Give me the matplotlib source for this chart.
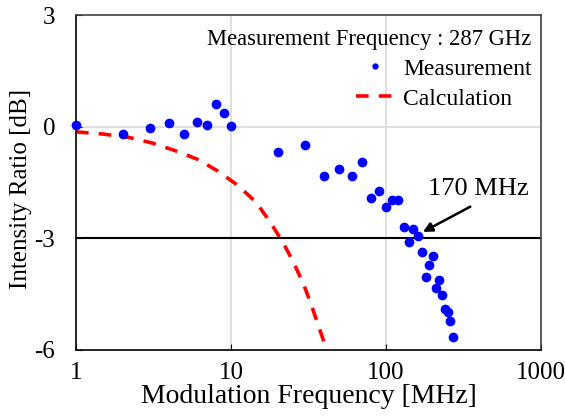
import numpy as np
import matplotlib.pyplot as plt

plt.rcParams['font.family'] = ['Liberation Serif', 'DejaVu Serif']
plt.rcParams['mathtext.fontset'] = 'stix'

# measured intensity ratio vs modulation frequency
meas_freq = [1, 2, 3, 4, 5, 6, 7, 8, 9, 10,
             20, 30, 40, 50, 60, 70, 80, 90, 100, 110, 120,
             130, 140, 150, 160, 170, 180, 190, 200, 210, 220,
             230, 240, 250, 260, 270]
meas_db = [0.05, -0.2, -0.04, 0.1, -0.2, 0.13, 0.05, 0.6, 0.37, 0.02,
           -0.68, -0.5, -1.33, -1.14, -1.33, -0.95, -1.92, -1.73, -2.16, -1.97, -1.97,
           -2.7, -3.1, -2.75, -2.94, -3.37, -4.04, -3.72, -3.48, -4.33, -4.12,
           -4.52, -4.9, -4.98, -5.22, -5.65]

# calculated response
calc_freq = [1, 1.5, 2.2, 3.1, 4.4, 6.1, 8.2, 11, 14.5, 17.8,
             21.7, 25.4, 29.5, 33.3, 37.5, 41.4]
calc_db = [-0.14, -0.2, -0.29, -0.44, -0.65, -0.88, -1.19, -1.57, -2.03, -2.55,
           -3.12, -3.66, -4.25, -4.84, -5.47, -6.0]

xticks = [1, 10, 100, 1000]
yticks = [-6, -3, 0, 3]

fig = plt.figure(figsize=(5.65, 4.18), dpi=100)
ax = fig.add_axes([0.1345, 0.163, 0.823, 0.801])

ax.set_xscale('log')
ax.set_xlim(1, 1000)
ax.set_ylim(-6, 3)

# light grid at decades and 0 dB, black reference at -3 dB
for x in [10, 100]:
    ax.axvline(x, color='#d9d9d9', lw=1.2, zorder=0)
ax.axhline(0, color='#d9d9d9', lw=1.2, zorder=0)
ax.axhline(-3, color='black', lw=1.5, zorder=1)

ax.plot(meas_freq, meas_db, 'o', color='#0000ff', ms=7, mec='none',
        label='Measurement', zorder=3, clip_on=False)
ax.plot(calc_freq, calc_db, '--', color='#ff0000', lw=2.6, dashes=(3.5, 2.8),
        label='Calculation', zorder=2)

ax.set_xticks(xticks)
ax.set_xticklabels([str(t) for t in xticks])
ax.set_yticks(yticks)
ax.set_yticklabels([str(t) for t in yticks])
ax.minorticks_off()
ax.tick_params(direction='in', length=4, labelsize=18)
ax.tick_params(axis='x', pad=9)
ax.tick_params(axis='y', pad=15)

for s in ax.spines.values():
    s.set_linewidth(1.2)
ax.spines['top'].set_color('#404040')
ax.spines['right'].set_color('#404040')

ax.set_xlabel('Modulation Frequency [MHz]', fontsize=20, labelpad=0)
ax.set_ylabel('Intensity Ratio [dB]', fontsize=18)
ax.yaxis.set_label_coords(-0.095, 0.48)

leg = ax.legend(loc='upper right', bbox_to_anchor=(1.015, 1.009),
                frameon=False, fontsize=17,
                title='Measurement Frequency : 287 GHz', title_fontsize=16.3,
                markerscale=0.65, handlelength=1.6, borderaxespad=0.1,
                borderpad=0.6, labelspacing=0.36, handletextpad=0.4)
leg._legend_box.align = 'right'

ax.text(392, -1.68, '170 MHz', fontsize=19, ha='center', va='center')
ax.annotate('', xy=(173, -2.83), xytext=(350, -2.15),
            arrowprops=dict(arrowstyle='-|>', color='black', lw=1.8,
                            mutation_scale=14, shrinkA=0, shrinkB=0))

fig.savefig('out.png', dpi=100)
